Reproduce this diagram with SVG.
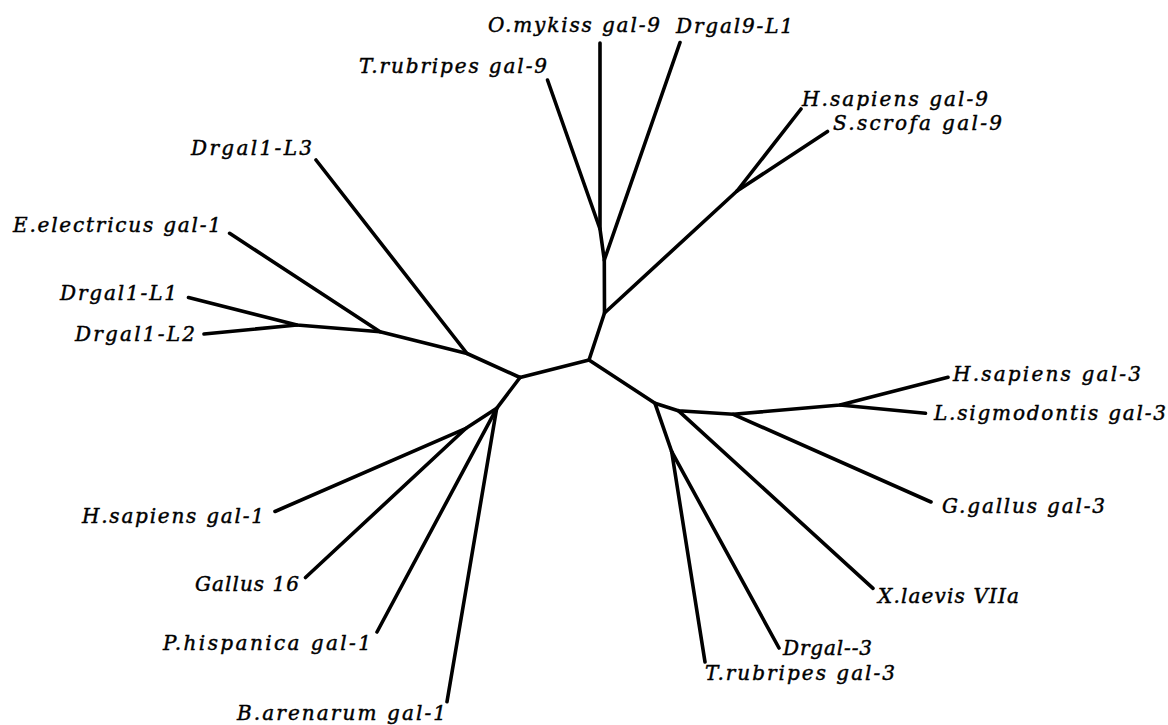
<svg xmlns="http://www.w3.org/2000/svg" width="1168" height="725" viewBox="0 0 1168 725">
<style>
.e{stroke:#000;stroke-width:3.6;stroke-linecap:round;stroke-linejoin:round;fill:none}
.t{font-family:"DejaVu Serif","Liberation Serif",serif;font-style:italic;font-size:20px;fill:#000;stroke:#000;stroke-width:0.45}
</style>
<rect width="1168" height="725" fill="#fff"/>
<g id="connectors">
<polyline class="e" points="520,377.5 589,360 604.5,313 604.3,260 600,229 600,43"/>
<line class="e" x1="600" y1="229" x2="547.5" y2="80"/>
<line class="e" x1="604.3" y1="260" x2="680" y2="42.5"/>
<line class="e" x1="604.5" y1="313" x2="737" y2="191"/>
<line class="e" x1="737" y1="191" x2="801" y2="109"/>
<line class="e" x1="737" y1="191" x2="827.5" y2="131.5"/>
<polyline class="e" points="520,377.5 467,353.5 380,331.7 297,325 188.5,297.5"/>
<line class="e" x1="297" y1="325" x2="204" y2="334"/>
<line class="e" x1="380" y1="331.7" x2="229.6" y2="233.3"/>
<line class="e" x1="467" y1="353.5" x2="316" y2="160"/>
<polyline class="e" points="520,377.5 496.7,408.3 466,428.3 275,511.5"/>
<line class="e" x1="466" y1="428.3" x2="305.5" y2="577.5"/>
<line class="e" x1="496.7" y1="408.3" x2="377" y2="632"/>
<line class="e" x1="496.7" y1="408.3" x2="447" y2="701.7"/>
<polyline class="e" points="589,360 655,403.3 678.3,410.7 733.3,414.3 840,405 948,377.3"/>
<line class="e" x1="840" y1="405" x2="925.5" y2="413.3"/>
<line class="e" x1="733.3" y1="414.3" x2="931" y2="502"/>
<line class="e" x1="678.3" y1="410.7" x2="873" y2="588.3"/>
<line class="e" x1="655" y1="403.3" x2="671.7" y2="451.7"/>
<line class="e" x1="671.7" y1="451.7" x2="705" y2="662"/>
<line class="e" x1="671.7" y1="451.7" x2="779" y2="648"/>
</g>
<g id="omykiss-gal9"><text class="t" x="488" y="32" textLength="172" lengthAdjust="spacing">O.mykiss gal-9</text></g>
<g id="drgal9-l1"><text class="t" x="676" y="33" textLength="117" lengthAdjust="spacing">Drgal9-L1</text></g>
<g id="trubripes-gal9"><text class="t" x="359" y="73" textLength="188" lengthAdjust="spacing">T.rubripes gal-9</text></g>
<g id="hsapiens-gal9"><text class="t" x="802" y="106" textLength="186" lengthAdjust="spacing">H.sapiens gal-9</text></g>
<g id="sscrofa-gal9"><text class="t" x="833" y="130" textLength="169" lengthAdjust="spacing">S.scrofa gal-9</text></g>
<g id="drgal1-l3"><text class="t" x="191" y="155" textLength="121" lengthAdjust="spacing">Drgal1-L3</text></g>
<g id="eelectricus-gal1"><text class="t" x="13" y="232" textLength="208" lengthAdjust="spacing">E.electricus gal-1</text></g>
<g id="drgal1-l1"><text class="t" x="60" y="300" textLength="117" lengthAdjust="spacing">Drgal1-L1</text></g>
<g id="drgal1-l2"><text class="t" x="75" y="341" textLength="120" lengthAdjust="spacing">Drgal1-L2</text></g>
<g id="hsapiens-gal3"><text class="t" x="953" y="381" textLength="188" lengthAdjust="spacing">H.sapiens gal-3</text></g>
<g id="lsigmodontis-gal3"><text class="t" x="934" y="420" textLength="232" lengthAdjust="spacing">L.sigmodontis gal-3</text></g>
<g id="ggallus-gal3"><text class="t" x="942" y="513" textLength="163" lengthAdjust="spacing">G.gallus gal-3</text></g>
<g id="xlaevis-viia"><text class="t" x="878" y="603" textLength="141" lengthAdjust="spacing">X.laevis VIIa</text></g>
<g id="drgal-3"><text class="t" x="783" y="655" textLength="89" lengthAdjust="spacing">Drgal--3</text></g>
<g id="trubripes-gal3"><text class="t" x="705" y="680" textLength="190" lengthAdjust="spacing">T.rubripes gal-3</text></g>
<g id="hsapiens-gal1"><text class="t" x="82" y="523" textLength="182" lengthAdjust="spacing">H.sapiens gal-1</text></g>
<g id="gallus-16"><text class="t" x="195" y="591" textLength="104" lengthAdjust="spacing">Gallus 16</text></g>
<g id="phispanica-gal1"><text class="t" x="163" y="650" textLength="208" lengthAdjust="spacing">P.hispanica gal-1</text></g>
<g id="barenarum-gal1"><text class="t" x="237" y="720" textLength="209" lengthAdjust="spacing">B.arenarum gal-1</text></g>
</svg>
